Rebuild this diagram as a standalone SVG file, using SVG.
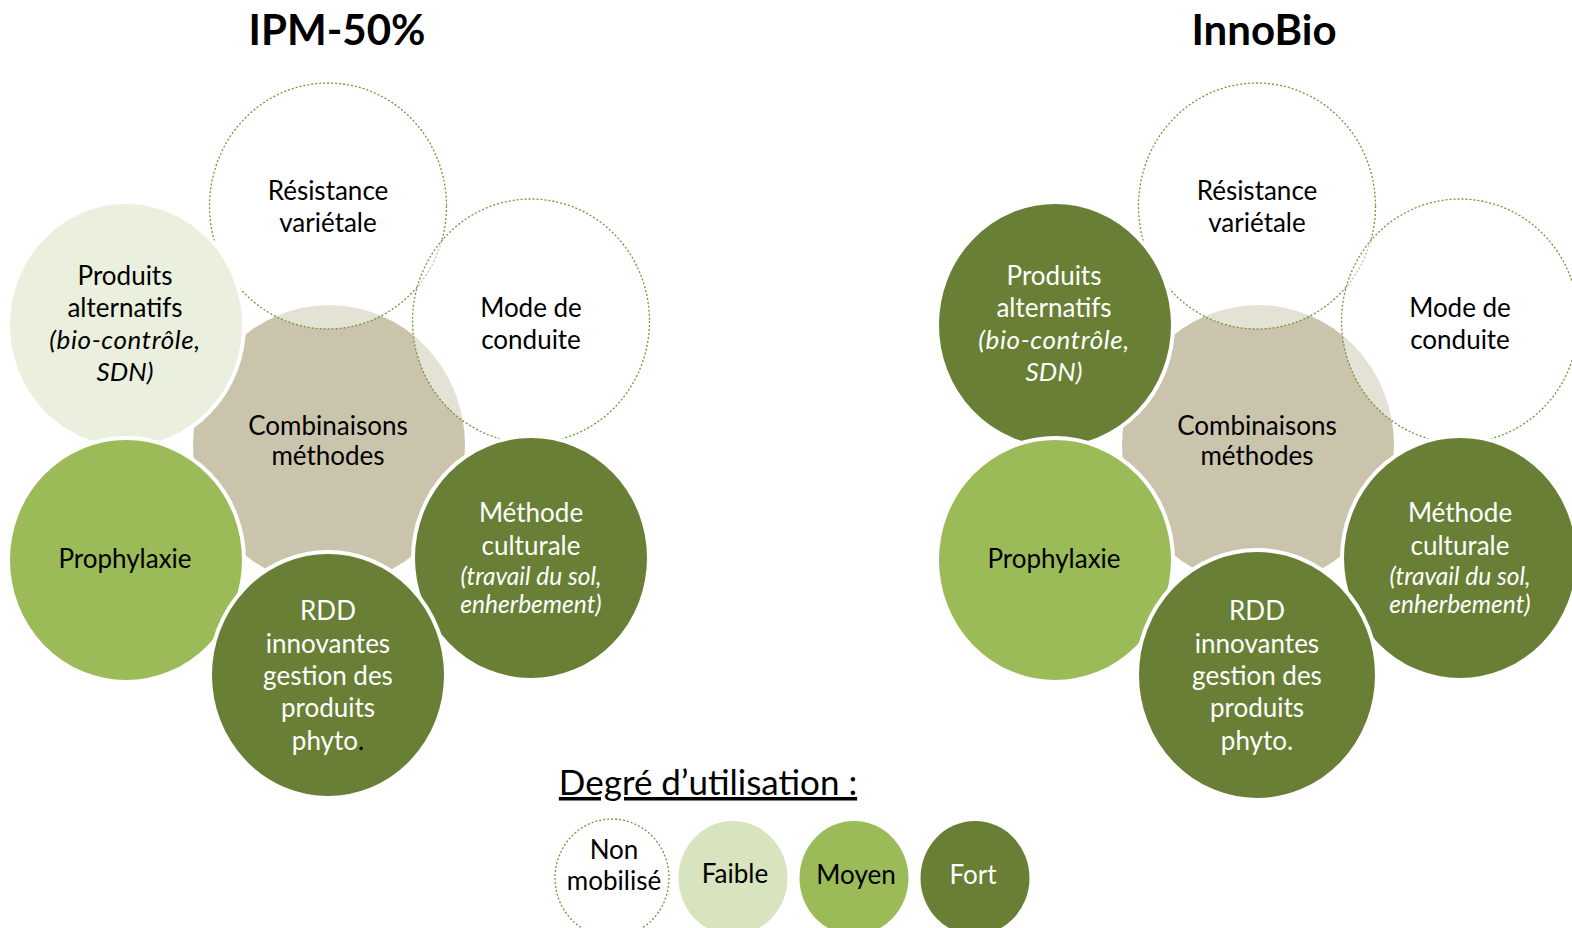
<svg xmlns="http://www.w3.org/2000/svg" width="1572" height="928" viewBox="0 0 1572 928">
<style>
text{font-family:Lato,"Open Sans","Liberation Sans",sans-serif;text-anchor:middle;font-size:26px;fill:#000}
.w{fill:#fff}
.it{font-style:italic;font-size:26px}
.sm{font-size:24.5px}
.title{font-weight:bold;font-size:42px}
.center{fill:#c9c4ab}
.none{fill:#fff;fill-opacity:0.5;stroke:#77933c;stroke-width:1.3;stroke-dasharray:2 2}
.light{fill:#ebf0de;stroke:#fff;stroke-width:4}
.faible{fill:#d7e4bd}
.mid{fill:#9bbb59;stroke:#fff;stroke-width:4}
.dark{fill:#687f35;stroke:#fff;stroke-width:4}
</style>
<rect width="1572" height="928" fill="#fff"/>
<text class="title" x="337" y="45">IPM-50%</text>
<text class="title" x="1264" y="45">InnoBio</text>

<g id="ipm">
<g id="ipm-center"><ellipse class="center" cx="329" cy="445" rx="136" ry="140"/></g>
<g id="ipm-resistance"><ellipse class="none" cx="328" cy="206" rx="118.5" ry="123"/>
<text x="328" y="200">Résistance</text><text x="328" y="232">variétale</text></g>
<g id="ipm-mode"><ellipse class="none" cx="531" cy="321" rx="118.5" ry="122"/>
<text x="531" y="317">Mode de</text><text x="531" y="349">conduite</text></g>
<g id="ipm-produits"><ellipse class="light" cx="126" cy="325" rx="118" ry="123"/>
<text x="125" y="285">Produits</text><text x="125" y="317">alternatifs</text>
<text class="it" x="125" y="349" letter-spacing="0.6">(bio-contrôle,</text><text class="it" x="125" y="381">SDN)</text></g>
<g id="ipm-prophylaxie"><ellipse class="mid" cx="126" cy="560" rx="118" ry="122"/>
<text x="125" y="568">Prophylaxie</text></g>
<g id="ipm-methode"><ellipse class="dark" cx="531" cy="558" rx="118" ry="122"/>
<text class="w" x="531" y="522">Méthode</text><text class="w" x="531" y="555">culturale</text>
<text class="w it sm" x="531" y="585">(travail du sol,</text><text class="w it sm" x="531" y="613">enherbement)</text></g>
<g id="ipm-rdd"><ellipse class="dark" cx="328" cy="675" rx="118" ry="123"/>
<text class="w" x="328" y="620">RDD</text><text class="w" x="328" y="653">innovantes</text>
<text class="w" x="328" y="685">gestion des</text><text class="w" x="328" y="717">produits</text>
<text x="328" y="750"><tspan class="w">phyto</tspan>.</text></g>
<g id="ipm-center-label"><text x="328" y="435">Combinaisons</text><text x="328" y="465">méthodes</text></g>
</g>

<g id="innobio">
<g id="inno-center"><ellipse class="center" cx="1258" cy="445" rx="136" ry="140"/></g>
<g id="inno-resistance"><ellipse class="none" cx="1257" cy="206" rx="118.5" ry="123"/>
<text x="1257" y="200">Résistance</text><text x="1257" y="232">variétale</text></g>
<g id="inno-mode"><ellipse class="none" cx="1460" cy="321" rx="118.5" ry="122"/>
<text x="1460" y="317">Mode de</text><text x="1460" y="349">conduite</text></g>
<g id="inno-produits"><ellipse class="dark" cx="1055" cy="325" rx="118" ry="123"/>
<text class="w" x="1054" y="285">Produits</text><text class="w" x="1054" y="317">alternatifs</text>
<text class="w it" x="1054" y="349" letter-spacing="0.6">(bio-contrôle,</text><text class="w it" x="1054" y="381">SDN)</text></g>
<g id="inno-prophylaxie"><ellipse class="mid" cx="1055" cy="560" rx="118" ry="122"/>
<text x="1054" y="568">Prophylaxie</text></g>
<g id="inno-methode"><ellipse class="dark" cx="1460" cy="558" rx="118" ry="122"/>
<text class="w" x="1460" y="522">Méthode</text><text class="w" x="1460" y="555">culturale</text>
<text class="w it sm" x="1460" y="585">(travail du sol,</text><text class="w it sm" x="1460" y="613">enherbement)</text></g>
<g id="inno-rdd"><ellipse class="dark" cx="1257" cy="675" rx="120" ry="125"/>
<text class="w" x="1257" y="620">RDD</text><text class="w" x="1257" y="653">innovantes</text>
<text class="w" x="1257" y="685">gestion des</text><text class="w" x="1257" y="717">produits</text>
<text class="w" x="1257" y="750">phyto.</text></g>
<g id="inno-center-label"><text x="1257" y="435">Combinaisons</text><text x="1257" y="465">méthodes</text></g>
</g>

<g id="legend">
<text x="708" y="795" style="font-size:35px;text-decoration:underline">Degré d’utilisation :</text>
<g id="leg-none"><ellipse class="none" cx="612" cy="878" rx="57" ry="59"/>
<text x="614" y="859">Non</text><text x="614" y="890">mobilisé</text></g>
<g id="leg-faible"><ellipse class="faible" cx="733" cy="878" rx="54.5" ry="57"/><text x="735" y="883">Faible</text></g>
<g id="leg-moyen"><ellipse fill="#9bbb59" cx="854" cy="878" rx="54.5" ry="57"/><text x="856" y="884">Moyen</text></g>
<g id="leg-fort"><ellipse fill="#687f35" cx="975" cy="878" rx="54.5" ry="57"/><text class="w" x="973" y="884">Fort</text></g>
</g>
</svg>
